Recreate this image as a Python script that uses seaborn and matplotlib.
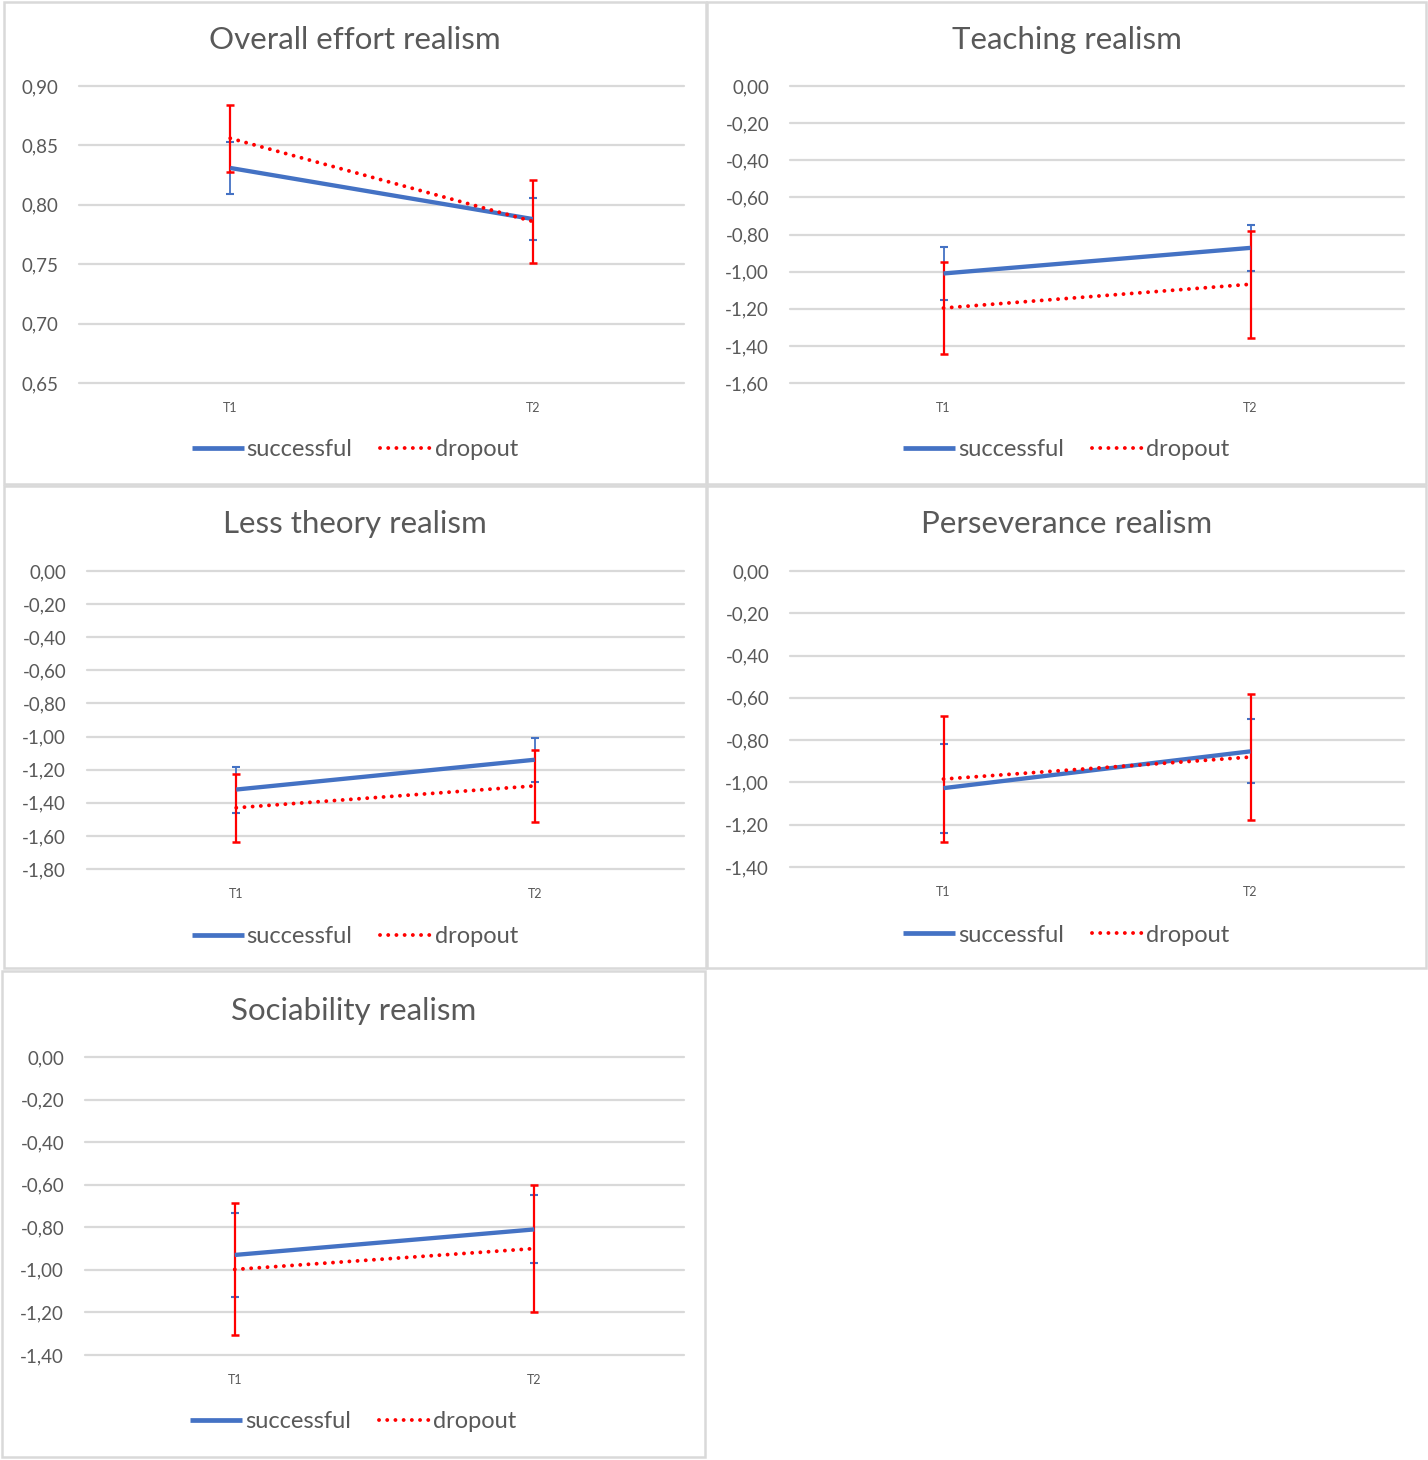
import matplotlib
matplotlib.use("Agg")
import matplotlib.pyplot as plt
from matplotlib.lines import Line2D
from matplotlib.patches import Rectangle
import seaborn as sns
import pandas as pd
import numpy as np

# ---------------- data ----------------
times = ["T1", "T2"]
groups = ["successful", "dropout"]

titles = ["Overall effort realism", "Teaching realism", "Less theory realism",
          "Perseverance realism", "Sociability realism"]

overall_succ = [0.831, 0.788]
overall_succ_err = [0.022, 0.018]
overall_drop = [0.856, 0.786]
overall_drop_err = [0.028, 0.035]

teaching_succ = [-1.010, -0.872]
teaching_succ_err = [0.143, 0.123]
teaching_drop = [-1.196, -1.068]
teaching_drop_err = [0.250, 0.288]

less_succ = [-1.320, -1.140]
less_succ_err = [0.139, 0.134]
less_drop = [-1.430, -1.298]
less_drop_err = [0.204, 0.216]

pers_succ = [-1.027, -0.853]
pers_succ_err = [0.210, 0.151]
pers_drop = [-0.984, -0.880]
pers_drop_err = [0.300, 0.298]

soc_succ = [-0.930, -0.810]
soc_succ_err = [0.197, 0.160]
soc_drop = [-0.998, -0.900]
soc_drop_err = [0.310, 0.300]

y_limits = [(0.65, 0.90), (-1.6, 0.0), (-1.8, 0.0), (-1.4, 0.0), (-1.4, 0.0)]
y_steps = [0.05, 0.2, 0.2, 0.2, 0.2]

series = [
    (overall_succ, overall_succ_err, overall_drop, overall_drop_err),
    (teaching_succ, teaching_succ_err, teaching_drop, teaching_drop_err),
    (less_succ, less_succ_err, less_drop, less_drop_err),
    (pers_succ, pers_succ_err, pers_drop, pers_drop_err),
    (soc_succ, soc_succ_err, soc_drop, soc_drop_err),
]

# ---------------- style ----------------
sns.set_theme(style="white")
plt.rcParams["font.family"] = ["Lato", "DejaVu Sans"]

W, H = 1428, 1460
fig = plt.figure(figsize=(W / 100, H / 100), dpi=100)
fig.patch.set_facecolor("white")

BLUE = "#4472C4"
RED = "#FF0000"
GRID = "#D9D9D9"
TXT = "#595959"

def rect(l, t, r, b):
    return [l / W, 1 - b / H, (r - l) / W, (b - t) / H]

def fmt(v):
    v = 0.0 if abs(v) < 1e-9 else v
    return f"{v:.2f}".replace(".", ",")

# plot-area pixel boxes (left, top, right, bottom)
plot_boxes = [(79, 86, 684, 383), (790, 86, 1404, 383), (87, 571, 684, 869),
              (790, 571, 1404, 867), (85, 1057, 684, 1355)]
# panel frames
panel_boxes = [(4, 2, 706, 484), (707, 2, 1426, 484), (4, 486, 706, 968),
               (707, 486, 1426, 968), (2, 971, 705, 1457)]
title_y = [40, 40, 524, 524, 1011]
legend_y = [450, 450, 937, 935, 1422]

for (l, t, r, b) in panel_boxes:
    fig.patches.append(Rectangle((l / W, 1 - b / H), (r - l) / W, (b - t) / H,
                                 transform=fig.transFigure, fill=False,
                                 edgecolor=GRID, linewidth=1.8, zorder=0))

dot_dashes = (0.01, 2.1)

for i in range(5):
    succ, succ_err, drop, drop_err = series[i]
    ax = fig.add_axes(rect(*plot_boxes[i]))
    df = pd.DataFrame({
        "time": times * 2,
        "group": [groups[0]] * 2 + [groups[1]] * 2,
        "value": list(succ) + list(drop),
    })
    ax.errorbar([0, 1], succ, yerr=succ_err, fmt="none", ecolor=BLUE,
                elinewidth=1.3, capsize=2.8, capthick=1.5, zorder=2)
    ax.errorbar([0, 1], drop, yerr=drop_err, fmt="none", ecolor=RED,
                elinewidth=1.6, capsize=2.8, capthick=1.8, zorder=2)
    sns.lineplot(data=df, x="time", y="value", hue="group", style="group",
                 palette={"successful": BLUE, "dropout": RED},
                 dashes={"successful": "", "dropout": dot_dashes},
                 linewidth=3.1, sort=False, legend=False, ax=ax, zorder=3)
    for ln in ax.lines:
        ln.set_dash_capstyle("round")
        ln.set_solid_capstyle("butt")
        if str(ln.get_color()).lower() == RED.lower():
            ln.set_linewidth(2.8)

    lo, hi = y_limits[i]
    ax.set_ylim(lo, hi)
    ax.set_xlim(-0.5, 1.5)
    ticks = np.round(np.arange(lo, hi + y_steps[i] / 2, y_steps[i]), 2)
    ax.set_yticks(ticks)
    ax.set_yticklabels([fmt(v) for v in ticks])
    ax.set_xticks([0, 1])
    ax.set_xticklabels(times)
    ax.set_xlabel("")
    ax.set_ylabel("")
    for s in ax.spines.values():
        s.set_visible(False)
    ax.yaxis.grid(True, color=GRID, linewidth=1.6)
    ax.xaxis.grid(False)
    ax.set_axisbelow(True)
    for gl in ax.get_ygridlines():
        gl.set_clip_on(False)
    ax.tick_params(axis="y", length=0, pad=15, labelsize=13.5, labelcolor=TXT)
    ax.tick_params(axis="x", length=0, pad=14, labelsize=9, labelcolor=TXT)
    ax.set_facecolor("none")

    pl, pt, pr, pb = panel_boxes[i]
    cx = (pl + pr) / 2 / W
    fig.text(cx, 1 - title_y[i] / H, titles[i], ha="center", va="center",
             fontsize=22.5, color=TXT)

    handles = [Line2D([], [], color=BLUE, linewidth=3.4, solid_capstyle="butt"),
               Line2D([], [], color=RED, linewidth=2.8, linestyle=(0, dot_dashes),
                      dash_capstyle="round")]
    leg = ax.legend(handles, groups, loc="center",
                    bbox_to_anchor=(cx, 1 - legend_y[i] / H),
                    bbox_transform=fig.transFigure, ncol=2, frameon=False,
                    handlelength=2.2, handletextpad=0.1, columnspacing=1.2,
                    fontsize=17)
    for t in leg.get_texts():
        t.set_color(TXT)

fig.savefig("out.png", dpi=100, facecolor="white")
